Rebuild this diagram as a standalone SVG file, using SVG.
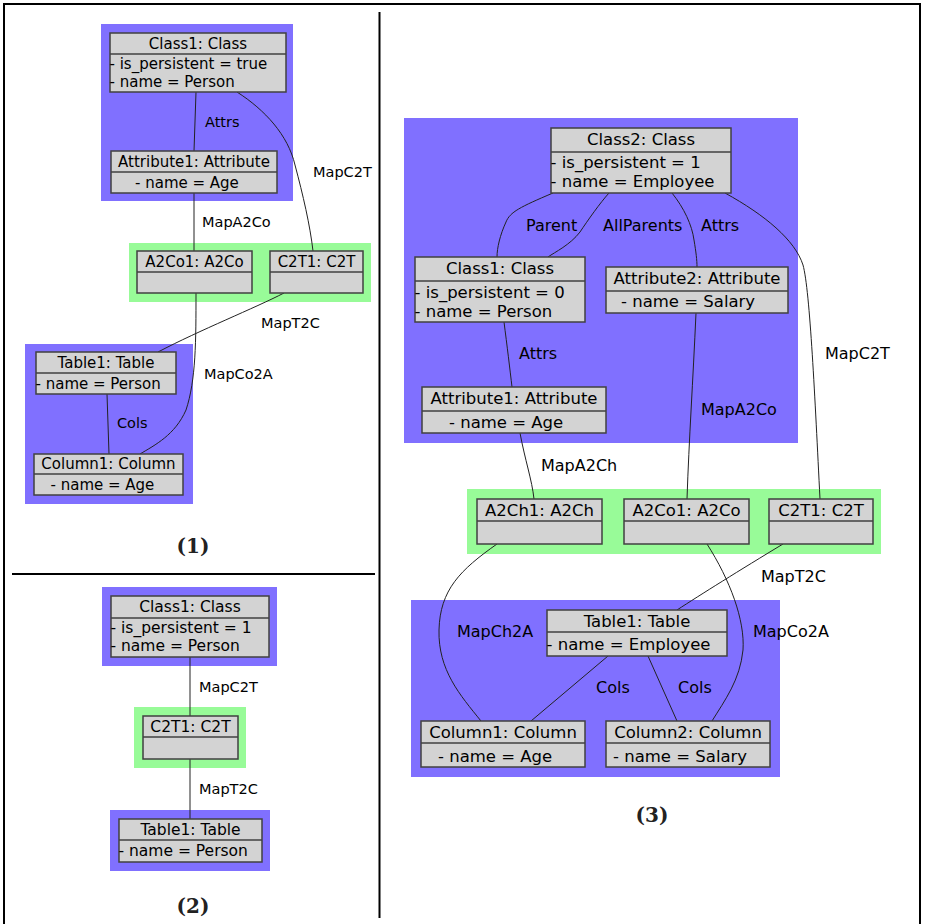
<svg xmlns="http://www.w3.org/2000/svg" width="925" height="924" viewBox="0 0 925 924">
<style>
.frame{fill:none;stroke:#000;stroke-width:2}
.blue{fill:#8070ff}
.green{fill:#98fb98}
.box{fill:#d3d3d3;stroke:#404040;stroke-width:1.5}
.div{stroke:#404040;stroke-width:1.5}
.t{font-family:"DejaVu Sans",Verdana,sans-serif;font-size:15px;fill:#000}
.t2{font-size:15.5px}
.t3{font-size:16.5px}
.c{text-anchor:middle}
.lbl{font-family:"DejaVu Sans",Verdana,sans-serif;font-size:14.5px;fill:#000}
.l3{font-size:16px}
.cap{font-family:"DejaVu Serif",serif;font-weight:bold;font-size:20px;fill:#222;text-anchor:middle}
.con{fill:none;stroke:#222;stroke-width:1}
</style>
<rect width="925" height="924" fill="#fff"/>
<g id="frame">
<path class="frame" d="M4,930 L4,4 L920,4 L920,930"/>
<path class="frame" d="M379.5,12 L379.5,918"/>
<path class="frame" d="M12,574 L375,574"/>
</g>
<g id="containers">
<rect class="blue" x="101" y="24" width="192" height="177"/>
<rect class="green" x="129" y="243" width="242" height="59"/>
<rect class="blue" x="25" y="344" width="168" height="160"/>
<rect class="blue" x="102" y="587" width="175" height="79"/>
<rect class="green" x="134" y="707" width="112" height="61"/>
<rect class="blue" x="110" y="810" width="160" height="61"/>
<rect class="blue" x="404" y="118" width="394" height="325"/>
<rect class="green" x="467" y="489" width="414" height="65"/>
<rect class="blue" x="411" y="600" width="369" height="177"/>
</g>
<g id="connectors">
<path class="con" d="M196,92 L194,151"/>
<path class="con" d="M237,92 C265,110 288,135 295,165 C303,195 310,225 313,251"/>
<path class="con" d="M194,193 L194,251"/>
<path class="con" d="M284,293 C255,308 200,330 158,352"/>
<path class="con" d="M196,293 C196,340 196,380 186,410 C175,435 155,445 140,454"/>
<path class="con" d="M107,394 L109,454"/>
<path class="con" d="M190,657 L190,716"/>
<path class="con" d="M190,759 L190,819"/>
<path class="con" d="M553,193 C520,207 510,212 506,222 C500,235 497,248 497,257"/>
<path class="con" d="M609,193 C600,203 588,220 580,232 C570,245 555,252 548,257"/>
<path class="con" d="M672,193 C684,208 692,225 694,240 C696,252 697,260 697,267"/>
<path class="con" d="M725,193 C765,215 795,240 803,265 C810,290 815,400 820,499"/>
<path class="con" d="M504,322 C507,345 510,370 512,387"/>
<path class="con" d="M696,313 C693,380 689,440 687,499"/>
<path class="con" d="M520,433 C525,460 532,480 534,499"/>
<path class="con" d="M783,544 C740,570 700,595 677,610"/>
<path class="con" d="M497,544 C460,570 440,590 439,630 C438,670 460,695 481,721"/>
<path class="con" d="M707,544 C730,580 745,620 743,650 C740,680 725,700 712,721"/>
<path class="con" d="M608,656 L531,721"/>
<path class="con" d="M648,656 L677,721"/>
</g>
<g id="labels">
<text class="lbl" x="205" y="127">Attrs</text>
<text class="lbl" x="313" y="177">MapC2T</text>
<text class="lbl" x="202" y="227">MapA2Co</text>
<text class="lbl" x="261" y="328">MapT2C</text>
<text class="lbl" x="204" y="379">MapCo2A</text>
<text class="lbl" x="117" y="428">Cols</text>
<text class="lbl" x="199" y="692">MapC2T</text>
<text class="lbl" x="199" y="794">MapT2C</text>
<text class="lbl l3" x="526" y="231">Parent</text>
<text class="lbl l3" x="603" y="231">AllParents</text>
<text class="lbl l3" x="701" y="231">Attrs</text>
<text class="lbl l3" x="825" y="359">MapC2T</text>
<text class="lbl l3" x="519" y="359">Attrs</text>
<text class="lbl l3" x="701" y="415">MapA2Co</text>
<text class="lbl l3" x="541" y="471">MapA2Ch</text>
<text class="lbl l3" x="761" y="582">MapT2C</text>
<text class="lbl l3" x="457" y="637">MapCh2A</text>
<text class="lbl l3" x="753" y="637">MapCo2A</text>
<text class="lbl l3" x="596" y="693">Cols</text>
<text class="lbl l3" x="678" y="693">Cols</text>
</g>
<!-- Panel 1 -->
<g id="p1-class1">
<rect class="box" x="110" y="33" width="176" height="59"/>
<line class="div" x1="110" y1="54" x2="286" y2="54"/>
<text class="t c" x="198" y="49">Class1: Class</text>
<text class="t" x="109.5" y="69">- is_persistent = true</text>
<text class="t" x="109.5" y="87">- name = Person</text>
</g>
<g id="p1-attribute1">
<rect class="box" x="111" y="151" width="166" height="42"/>
<line class="div" x1="111" y1="172" x2="277" y2="172"/>
<text class="t c" x="194" y="167">Attribute1: Attribute</text>
<text class="t" x="135" y="188">- name = Age</text>
</g>
<g id="p1-a2co1">
<rect class="box" x="137" y="251" width="115" height="42"/>
<line class="div" x1="137" y1="272" x2="252" y2="272"/>
<text class="t c" x="194.5" y="267">A2Co1: A2Co</text>
</g>
<g id="p1-c2t1">
<rect class="box" x="270" y="251" width="93" height="42"/>
<line class="div" x1="270" y1="272" x2="363" y2="272"/>
<text class="t c" x="316.5" y="267">C2T1: C2T</text>
</g>
<g id="p1-table1">
<rect class="box" x="36" y="352" width="140" height="42"/>
<line class="div" x1="36" y1="373" x2="176" y2="373"/>
<text class="t c" x="106" y="368">Table1: Table</text>
<text class="t" x="35.5" y="389">- name = Person</text>
</g>
<g id="p1-column1">
<rect class="box" x="34" y="454" width="149" height="41"/>
<line class="div" x1="34" y1="474" x2="183" y2="474"/>
<text class="t c" x="108.5" y="469">Column1: Column</text>
<text class="t" x="50.5" y="490">- name = Age</text>
</g>
<text class="cap" x="193" y="553">(1)</text>
<!-- Panel 2 -->
<g id="p2-class1">
<rect class="box" x="111" y="596" width="158" height="61"/>
<line class="div" x1="111" y1="618" x2="269" y2="618"/>
<text class="t t2 c" x="190" y="612">Class1: Class</text>
<text class="t t2" x="110.5" y="633">- is_persistent = 1</text>
<text class="t t2" x="110.5" y="651">- name = Person</text>
</g>
<g id="p2-c2t1">
<rect class="box" x="143" y="716" width="95" height="43"/>
<line class="div" x1="143" y1="737" x2="238" y2="737"/>
<text class="t t2 c" x="190.5" y="732">C2T1: C2T</text>
</g>
<g id="p2-table1">
<rect class="box" x="119" y="819" width="143" height="43"/>
<line class="div" x1="119" y1="840" x2="262" y2="840"/>
<text class="t t2 c" x="190.5" y="835">Table1: Table</text>
<text class="t t2" x="118.5" y="856">- name = Person</text>
</g>
<text class="cap" x="193" y="913">(2)</text>
<!-- Panel 3 -->
<g id="p3-class2">
<rect class="box" x="551" y="128" width="180" height="65"/>
<line class="div" x1="551" y1="152" x2="731" y2="152"/>
<text class="t t3 c" x="641" y="145">Class2: Class</text>
<text class="t t3" x="550.5" y="168">- is_persistent = 1</text>
<text class="t t3" x="550.5" y="187">- name = Employee</text>
</g>
<g id="p3-class1">
<rect class="box" x="415" y="257" width="170" height="65"/>
<line class="div" x1="415" y1="281" x2="585" y2="281"/>
<text class="t t3 c" x="500" y="274">Class1: Class</text>
<text class="t t3" x="414.5" y="298">- is_persistent = 0</text>
<text class="t t3" x="414.5" y="317">- name = Person</text>
</g>
<g id="p3-attribute2">
<rect class="box" x="606" y="267" width="182" height="46"/>
<line class="div" x1="606" y1="291" x2="788" y2="291"/>
<text class="t t3 c" x="697" y="284">Attribute2: Attribute</text>
<text class="t t3" x="621" y="307">- name = Salary</text>
</g>
<g id="p3-attribute1">
<rect class="box" x="422" y="387" width="184" height="46"/>
<line class="div" x1="422" y1="411" x2="606" y2="411"/>
<text class="t t3 c" x="514" y="404">Attribute1: Attribute</text>
<text class="t t3" x="449" y="428">- name = Age</text>
</g>
<g id="p3-a2ch1">
<rect class="box" x="477" y="499" width="125" height="45"/>
<line class="div" x1="477" y1="521" x2="602" y2="521"/>
<text class="t t3 c" x="539.5" y="516">A2Ch1: A2Ch</text>
</g>
<g id="p3-a2co1">
<rect class="box" x="624" y="499" width="125" height="45"/>
<line class="div" x1="624" y1="521" x2="749" y2="521"/>
<text class="t t3 c" x="686.5" y="516">A2Co1: A2Co</text>
</g>
<g id="p3-c2t1">
<rect class="box" x="769" y="499" width="104" height="45"/>
<line class="div" x1="769" y1="521" x2="873" y2="521"/>
<text class="t t3 c" x="821" y="516">C2T1: C2T</text>
</g>
<g id="p3-table1">
<rect class="box" x="547" y="610" width="180" height="46"/>
<line class="div" x1="547" y1="632" x2="727" y2="632"/>
<text class="t t3 c" x="637" y="627">Table1: Table</text>
<text class="t t3" x="546.5" y="650">- name = Employee</text>
</g>
<g id="p3-column1">
<rect class="box" x="421" y="721" width="164" height="46"/>
<line class="div" x1="421" y1="743" x2="585" y2="743"/>
<text class="t t3 c" x="503" y="738">Column1: Column</text>
<text class="t t3" x="438" y="762">- name = Age</text>
</g>
<g id="p3-column2">
<rect class="box" x="606" y="721" width="164" height="46"/>
<line class="div" x1="606" y1="743" x2="770" y2="743"/>
<text class="t t3 c" x="688" y="738">Column2: Column</text>
<text class="t t3" x="613" y="762">- name = Salary</text>
</g>
<text class="cap" x="652" y="822">(3)</text>
</svg>
